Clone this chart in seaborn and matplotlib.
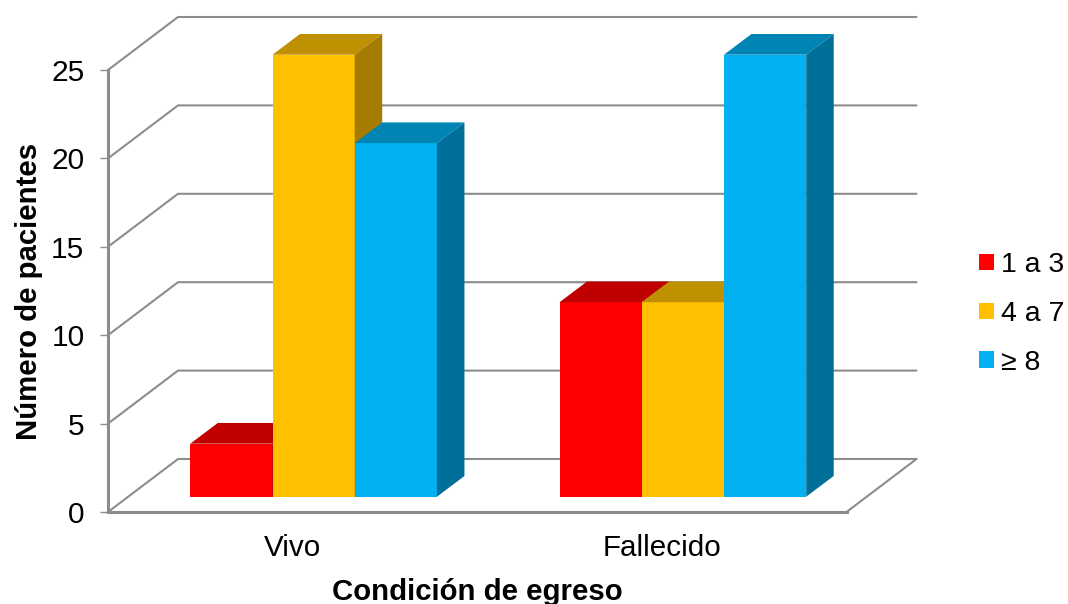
"""
Pseudo-3D grouped bar chart: patients by discharge condition and score group.
Front faces come from seaborn, depth faces and walls are added on top.
"""

import matplotlib

matplotlib.use("Agg")
import matplotlib.pyplot as plt
import pandas as pd
import seaborn as sns
from matplotlib.patches import Polygon

# --- Data ---
conditions = ["Vivo", "Fallecido"]
groups = ["1 a 3", "4 a 7", "≥ 8"]
vivo_values = [3, 25, 20]
fallecido_values = [11, 11, 25]
y_ticks = [0, 5, 10, 15, 20, 25]

front_colors = ["#FF0000", "#FFC000", "#00B0F0"]
top_colors = ["#C00000", "#BF9000", "#0084B4"]
side_colors = ["#A00000", "#A67C00", "#00709A"]
GREY = "#8C8C8C"

# Sizes in pixels of the reference
W, H = 1068, 604
AX_LEFT, AX_RIGHT, AX_TOP, AX_BOTTOM = 108, 846.5, 70, 512


def main():
    sns.set_theme(style="white")
    plt.rcParams["font.family"] = ["Liberation Sans", "DejaVu Sans"]
    plt.rcParams["text.color"] = "black"
    plt.rcParams["axes.labelcolor"] = "black"
    plt.rcParams["xtick.labelcolor"] = "black"
    plt.rcParams["ytick.labelcolor"] = "black"

    df = pd.DataFrame(
        {
            "condition": [c for c in conditions for _ in groups],
            "group": groups * 2,
            "patients": vivo_values + fallecido_values,
        }
    )

    fig = plt.figure(figsize=(W / 100, H / 100), dpi=100)
    ax = fig.add_axes(
        [
            AX_LEFT / W,
            1 - AX_BOTTOM / H,
            (AX_RIGHT - AX_LEFT) / W,
            (AX_BOTTOM - AX_TOP) / H,
        ]
    )

    sns.barplot(
        data=df,
        x="condition",
        y="patients",
        hue="group",
        palette=front_colors,
        saturation=1,
        width=0.668,
        gap=0,
        linewidth=0,
        errorbar=None,
        ax=ax,
    )

    ax.set_xlim(-0.5, 1.5)
    ax.set_ylim(0, 25)

    # data units per pixel
    ux = 2 / (AX_RIGHT - AX_LEFT)
    uy = 25 / (AX_BOTTOM - AX_TOP)

    # --- Walls and floor ---
    wall_dx, wall_dy = 70 * ux, 53 * uy
    for v in y_ticks:
        ax.plot(
            [-0.5, -0.5 + wall_dx, 1.5 + wall_dx],
            [v, v + wall_dy, v + wall_dy],
            color=GREY,
            lw=1.5,
            clip_on=False,
            zorder=1,
        )
    ax.plot(
        [1.5, 1.5 + wall_dx],
        [0, wall_dy],
        color=GREY,
        lw=1.5,
        clip_on=False,
        zorder=1,
    )

    # --- Bars: push back into the box and add depth faces ---
    shift_x, shift_y = 21 * ux, 15.3 * uy
    depth_x, depth_y = 27.5 * ux, 20.7 * uy
    bars = []
    for container, top_c, side_c in zip(ax.containers, top_colors, side_colors):
        bars.extend((p, top_c, side_c) for p in container)
    bars.sort(key=lambda b: b[0].get_x())

    for i, (p, top_c, side_c) in enumerate(bars):
        p.set_x(p.get_x() + shift_x)
        p.set_y(p.get_y() + shift_y)
        p.set_clip_on(False)
        p.set_zorder(3 + i)
        x0, x1 = p.get_x(), p.get_x() + p.get_width()
        y0, y1 = p.get_y(), p.get_y() + p.get_height()
        top = [(x0, y1), (x1, y1), (x1 + depth_x, y1 + depth_y), (x0 + depth_x, y1 + depth_y)]
        side = [(x1, y0), (x1 + depth_x, y0 + depth_y), (x1 + depth_x, y1 + depth_y), (x1, y1)]
        ax.add_patch(Polygon(top, fc=top_c, lw=0, clip_on=False, zorder=3 + i))
        ax.add_patch(Polygon(side, fc=side_c, lw=0, clip_on=False, zorder=3 + i))

    # --- Axes ---
    ax.set_yticks(y_ticks)
    ax.tick_params(axis="y", left=True, length=6, width=1, color=GREY, labelsize=21.5, pad=11)
    ax.tick_params(axis="x", bottom=False, labelsize=21.3, pad=10)
    ax.set_xlabel("Condición de egreso", fontsize=21.2, fontweight="bold", labelpad=11)
    ax.set_ylabel("Número de pacientes", fontsize=21.2, fontweight="bold", labelpad=6)

    sns.despine(ax=ax, top=True, right=True)
    for side_name in ["left", "bottom"]:
        ax.spines[side_name].set_color(GREY)
        ax.spines[side_name].set_linewidth(2.2)
        ax.spines[side_name].set_zorder(2)

    # --- Legend ---
    sns.move_legend(
        ax,
        loc="center left",
        bbox_to_anchor=(979 / W, 1 - 314 / H),
        bbox_transform=fig.transFigure,
        frameon=False,
        title=None,
        fontsize=20.5,
        handlelength=0.52,
        handleheight=0.52,
        handletextpad=0.27,
        labelspacing=0.8,
        borderpad=0,
        borderaxespad=0,
    )

    fig.savefig("out.png", dpi=100)
    plt.close(fig)


if __name__ == "__main__":
    main()
